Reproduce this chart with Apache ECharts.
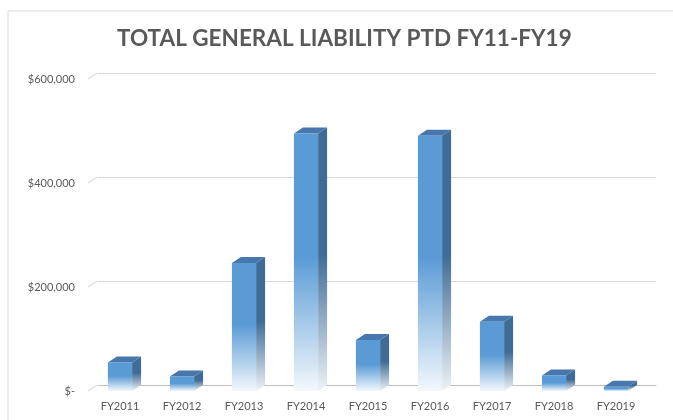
<!DOCTYPE html>
<html>
<head>
<meta charset="utf-8">
<title>Total General Liability PTD FY11-FY19</title>
<script src="https://cdn.jsdelivr.net/npm/echarts@6/dist/echarts.min.js"></script>
<style>
  html, body { margin: 0; padding: 0; background: #fff; }
  #main { width: 673px; height: 420px; }
</style>
</head>
<body>
<div id="main"></div>
<script>
// data
var categories = ['FY2011', 'FY2012', 'FY2013', 'FY2014', 'FY2015', 'FY2016', 'FY2017', 'FY2018', 'FY2019'];
var ptdValues = [55000, 28000, 246000, 495000, 98000, 491000, 133000, 30000, 8000];
var yTicks = [0, 200000, 400000, 600000];
var yTickLabels = ['$-', '$200,000', '$400,000', '$600,000'];

// depth of the fake 3d
var DX = 9, DY = 6;

var myChart = echarts.init(document.getElementById('main'));

function fade(c, end) {
  return {
    type: 'linear', x: 0, y: 0, x2: 0, y2: 1,
    colorStops: [
      { offset: 0, color: c },
      { offset: 0.48, color: c },
      { offset: 1, color: end }
    ]
  };
}

function renderBar(params, api) {
  var top = api.coord([api.value(0), api.value(1)]);
  var base = api.coord([api.value(0), 0]);
  var bw = api.size([1, 0])[0] * 0.39;
  var x0 = top[0] - bw / 2, x1 = top[0] + bw / 2;
  var t = top[1], b = base[1];
  return {
    type: 'group',
    children: [
      {
        type: 'polygon',
        shape: { points: [[x1, t], [x1 + DX, t - DY], [x1 + DX, b - DY], [x1, b]] },
        style: { fill: fade('#3f6c96', '#eef2f6') }
      },
      {
        type: 'polygon',
        shape: { points: [[x0, t], [x0 + DX, t - DY], [x1 + DX, t - DY], [x1, t]] },
        style: { fill: '#4777ad' }
      },
      {
        type: 'rect',
        shape: { x: x0, y: t, width: bw, height: b - t },
        style: { fill: fade('#5b9bd5', '#f3f8fd') }
      }
    ]
  };
}

// little slanted ticks joining the labels to the back wall
function renderSlant(params, api) {
  var p = api.coord([0, api.value(1)]);
  var x = params.coordSys.x;
  return {
    type: 'line',
    shape: { x1: x - 1, y1: p[1], x2: x + DX - 1, y2: p[1] - DY },
    style: { stroke: '#d0d0d0', lineWidth: 1 }
  };
}

var option = {
  backgroundColor: '#fff',
  textStyle: { fontFamily: 'Lato' },
  title: {
    text: 'TOTAL GENERAL LIABILITY PTD FY11-FY19',
    left: 112,
    top: 22,
    textStyle: { fontFamily: 'Lato', fontWeight: 'bold', fontSize: 22.5, color: '#595959' }
  },
  graphic: [{
    type: 'rect',
    shape: { x: 8, y: 11, width: 700, height: 450 },
    style: { fill: 'none', stroke: '#d9d9d9', lineWidth: 1 },
    silent: true
  }],
  grid: [
    { left: 89, right: 26, top: 79, bottom: 29 },
    { left: 98, right: 17, top: 73, bottom: 35 }
  ],
  xAxis: [
    {
      type: 'category', gridIndex: 0, data: categories,
      axisLine: { show: false }, axisTick: { show: false },
      axisLabel: { color: '#595959', fontSize: 11, fontFamily: 'Lato', margin: 10 }
    },
    {
      type: 'category', gridIndex: 1, data: categories,
      axisLine: { show: true, lineStyle: { color: '#bfbfbf' } },
      axisTick: { show: false }, axisLabel: { show: false }
    }
  ],
  yAxis: [
    {
      type: 'value', gridIndex: 0, min: 0, max: 600000, interval: 200000,
      axisLine: { show: false }, axisTick: { show: false }, splitLine: { show: false },
      axisLabel: {
        color: '#595959', fontSize: 11, fontFamily: 'Lato', margin: 14,
        formatter: function (v) { return yTickLabels[yTicks.indexOf(v)]; }
      }
    },
    {
      type: 'value', gridIndex: 1, min: 0, max: 600000, interval: 200000,
      axisLine: { show: false }, axisTick: { show: false }, axisLabel: { show: false },
      splitLine: { lineStyle: { color: '#d9d9d9', width: 1 } }
    }
  ],
  series: [
    {
      type: 'custom',
      xAxisIndex: 0, yAxisIndex: 0,
      renderItem: renderSlant,
      data: yTicks.map(function (v) { return [0, v]; }),
      silent: true
    },
    {
      name: 'PTD',
      type: 'custom',
      xAxisIndex: 0, yAxisIndex: 0,
      renderItem: renderBar,
      encode: { x: 0, y: 1 },
      data: ptdValues.map(function (v, i) { return [i, v]; })
    }
  ]
};

myChart.setOption(option);
</script>
</body>
</html>
